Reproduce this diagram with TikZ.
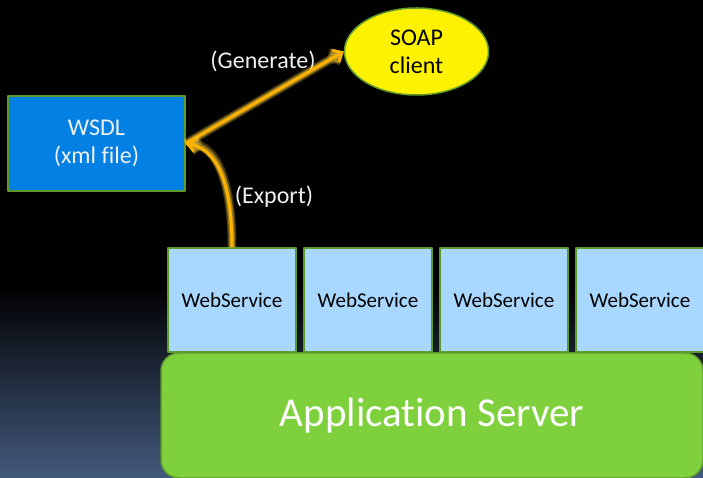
\documentclass[tikz,border=0pt]{standalone}
\usepackage{fontspec}
\setmainfont{Carlito}[Ligatures=NoCommon]
\usetikzlibrary{arrows.meta,shapes.geometric}
\definecolor{boxline}{RGB}{94,154,44}
\definecolor{wsdlblue}{RGB}{2,128,228}
\definecolor{wsblue}{RGB}{168,216,255}
\definecolor{servergreen}{RGB}{126,209,60}
\definecolor{flowline}{RGB}{255,178,0}
\definecolor{flowglow}{RGB}{255,210,60}
\definecolor{slate}{RGB}{67,89,124}
\definecolor{labelwhite}{RGB}{240,240,240}
\begin{document}
\begin{tikzpicture}[>={Straight Barb[length=7bp,width=13bp]},line join=bevel,
  edgebox/.style={draw=boxline,line width=1.5bp,inner sep=0pt},
  wsbox/.style={edgebox,fill=wsblue,minimum width=128bp,minimum height=104bp,
    font=\fontsize{21bp}{25bp}\selectfont},
  flow/.style={flowline,line width=3bp,->,
    preaction={draw=flowglow,line width=9bp,opacity=0.25},
    preaction={draw=flowglow,line width=6bp,opacity=0.45}},
  note/.style={text=labelwhite,font=\fontsize{24bp}{28bp}\selectfont}]
%% backdrop
\fill [black] (0bp,0bp) rectangle (703bp,478bp);
\shade [top color=black,bottom color=slate] (0bp,0bp) rectangle (703bp,192bp);
\useasboundingbox (0bp,0bp) rectangle (703bp,478bp);
%%
\node (node_server) at (432.0bp,62.5bp) [edgebox,fill=servergreen,rounded corners=18bp,minimum width=542bp,minimum height=125bp,text=white,font=\fontsize{41bp}{48bp}\selectfont] {Application Server};
  \node (node_ws1) at (232.0bp,178.0bp) [wsbox] {WebService};
  \node (node_ws2) at (368.0bp,178.0bp) [wsbox] {WebService};
  \node (node_ws3) at (504.0bp,178.0bp) [wsbox] {WebService};
  \node (node_ws4) at (640.0bp,178.0bp) [wsbox] {WebService};
  \node (node_wsdl) at (96.5bp,334.5bp) [edgebox,fill=wsdlblue,minimum width=177bp,minimum height=95bp,align=center,text=labelwhite,font=\fontsize{24bp}{28bp}\selectfont] {WSDL\\(xml file)};
  \node (node_soap) at (416.5bp,426.5bp) [ellipse,edgebox,fill=yellow,minimum width=144bp,minimum height=87bp,align=center,font=\fontsize{24bp}{28bp}\selectfont] {SOAP\\client};
%
\node (node_generate) at (263.0bp,417.0bp) [note] {(Generate)};
  \node (node_export) at (274.0bp,281.0bp) [note] {(Export)};
  \draw [flow] (node_wsdl.east) -- (node_soap.west);
  \draw [flow] (node_ws1.north) ..controls (232.0bp,300.0bp) and (215.0bp,330.0bp)  .. (node_wsdl.east);
%
\end{tikzpicture}
\end{document}
